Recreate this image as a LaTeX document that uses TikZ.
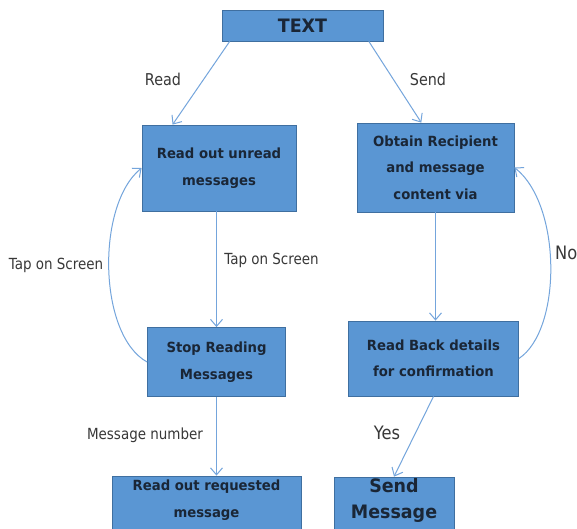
\documentclass[tikz,border=0pt]{standalone}
\usepackage{fontspec}
\usetikzlibrary{arrows.meta,calc}
\newfontfamily\boxfont{DejaVu Sans Bold}[FakeStretch=0.945]
\newfontfamily\labelfont{DejaVu Sans}[FakeStretch=0.88]
\definecolor{boxfill}{HTML}{5A96D3}
\definecolor{boxline}{HTML}{3F6FA0}
\definecolor{flow}{HTML}{74A5DC}
\definecolor{boxtext}{HTML}{1A2636}
\definecolor{labeltext}{HTML}{383838}
\tikzset{
  stepbox/.style={draw=boxline, fill=boxfill, line width=0.8pt, inner sep=0pt,
    text=boxtext, align=center, font={\boxfont\fontsize{14}{26.5}\selectfont}},
  boxlabel/.style={inner sep=0pt, text=boxtext, align=center},
  flowlabel/.style={inner sep=0pt, text=labeltext, font={\labelfont\fontsize{16.3}{19}\selectfont}},
  smalllabel/.style={flowlabel, font={\labelfont\fontsize{15.3}{18}\selectfont}},
  biglabel/.style={flowlabel, font={\labelfont\fontsize{18.5}{21}\selectfont}},
  flowarrow/.style={draw=flow, line width=1pt,
    -{Straight Barb[length=7pt,width=12pt,line width=1pt]}},
}
\begin{document}
\begin{tikzpicture}[x=1pt,y=-1pt]
\useasboundingbox (0,0) rectangle (577,528);
\fill[white] (0,0) rectangle (577,528);

% process boxes
\node[stepbox, minimum width=161pt, minimum height=31pt, font={\boxfont\fontsize{18.5}{20}\selectfont}]
  (txt) at (302.5,25.5) {TEXT};
\node[stepbox, minimum width=154pt, minimum height=86pt] (ru) at (219,168)
  {Read out unread\\messages};
\node[stepbox, minimum width=157pt, minimum height=89pt] (ob) at (435.5,167.5)
  {Obtain Recipient\\and message\\content via};
\node[stepbox, minimum width=138pt, minimum height=69pt] (sr) at (216.5,362)
  {Stop Reading\\Messages};
\node[stepbox, minimum width=170pt, minimum height=75pt] (rb) at (433.5,358.5)
  {Read Back details\\for confirmation};
\node[stepbox, minimum width=189pt, minimum height=64pt] (rq) at (206.5,508) {};
\node[boxlabel, font={\boxfont\fontsize{14}{26.5}\selectfont}] (rqt) at (206.5,500)
  {Read out requested\\message};
\node[stepbox, minimum width=120pt, minimum height=64pt] (sm) at (394,509) {};
\node[boxlabel, font={\boxfont\fontsize{18.5}{26}\selectfont}] (smt) at (394,500)
  {Send\\Message};

% connectors
\draw[flowarrow] ($(txt.south west)!0.05!(txt.south east)$) -- ($(ru.north west)!0.2!(ru.north east)$);
\draw[flowarrow] ($(txt.south west)!0.91!(txt.south east)$) -- ($(ob.north west)!0.41!(ob.north east)$);
\draw[flowarrow] (sr.north |- ru.south) -- (sr.north);
\draw[flowarrow] (ob.south) -- (ob.south |- rb.north);
\draw[flowarrow] (sr.south) -- (sr.south |- rq.north);
\draw[flowarrow] (rb.south) -- (sm.north);
\draw[flowarrow] (sr.west) .. controls (98,335) and (96,205) .. (ru.west);
\draw[flowarrow] (rb.east) .. controls (562,330) and (562,205) .. (ob.east);

% connector labels
\node[flowlabel] (lread) at (163,79) {Read};
\node[flowlabel] (lsend) at (428,79) {Send};
\node[smalllabel] (ltapl) at (56,265) {Tap on Screen};
\node[smalllabel] (ltapm) at (271.5,260) {Tap on Screen};
\node[biglabel, anchor=west] (lno) at (555,253) {No};
\node[smalllabel] (lmsg) at (145,435) {Message number};
\node[biglabel] (lyes) at (387,433) {Yes};
\end{tikzpicture}
\end{document}
